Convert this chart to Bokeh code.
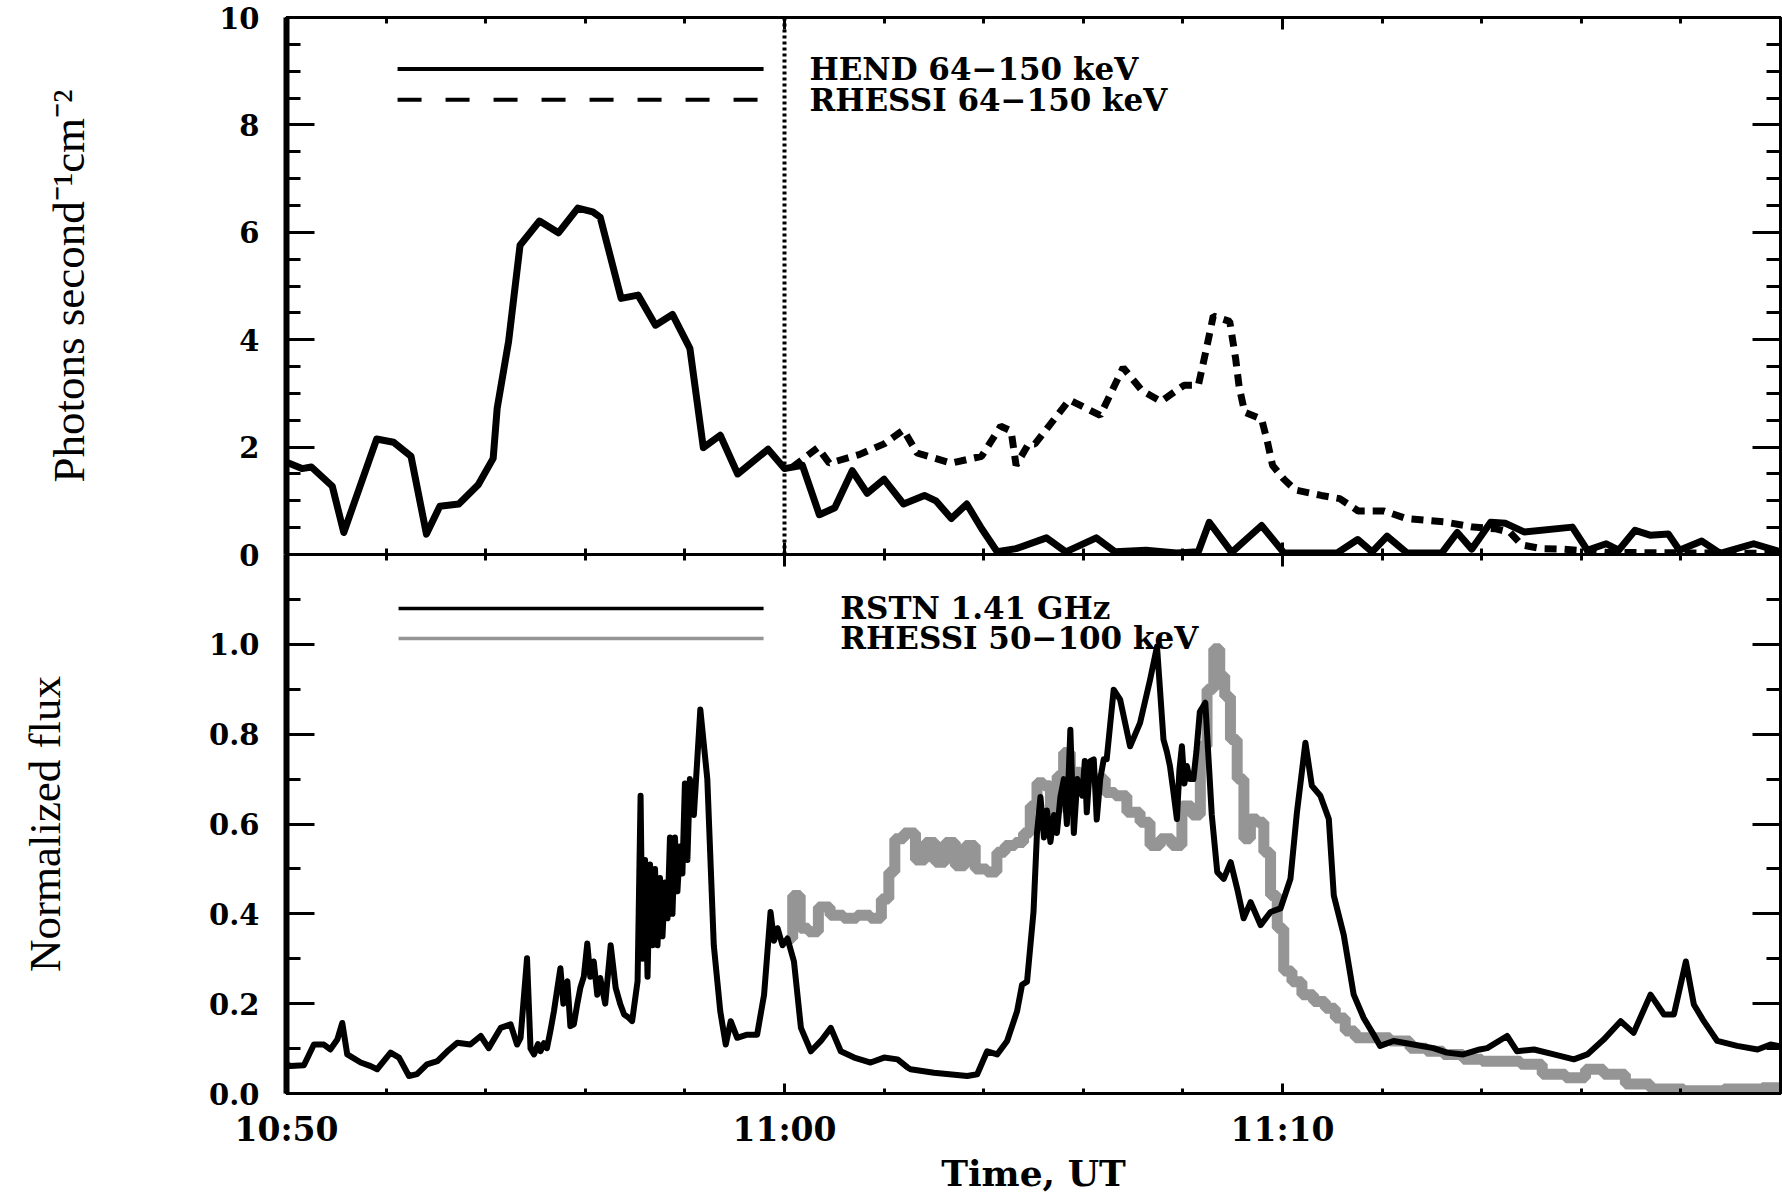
from bokeh.plotting import figure
from bokeh.models import Range1d, FixedTicker, LinearAxis, Span
from bokeh.layouts import column
from bokeh.core.properties import value
from bokeh.embed import file_html
from bokeh.resources import INLINE

# ---- time axis: minutes after 10:50 UT ----
x_major = [0, 10, 20]
x_minor = list(range(0, 31, 2))
x_labels = {0: "10:50", 10: "11:00", 20: "11:10"}

# ---- upper panel: hard X-ray photon flux (minutes, photons s^-1 cm^-2) ----
hend = [(0.0, 1.72), (0.31, 1.60), (0.5, 1.63), (0.92, 1.27), (1.15, 0.41), (1.81, 2.15),
        (2.15, 2.09), (2.5, 1.83), (2.81, 0.38), (3.08, 0.90), (3.46, 0.94), (3.85, 1.30),
        (4.15, 1.79), (4.23, 2.72), (4.46, 3.97), (4.69, 5.76), (5.08, 6.21), (5.46, 5.99),
        (5.85, 6.45), (6.15, 6.38), (6.3, 6.28), (6.72, 4.77), (7.06, 4.83), (7.41, 4.27),
        (7.75, 4.47), (8.1, 3.84), (8.37, 1.99), (8.71, 2.22), (9.06, 1.50), (9.67, 1.96),
        (10.0, 1.60), (10.36, 1.66), (10.7, 0.74), (11.01, 0.87), (11.36, 1.56),
        (11.66, 1.14), (12.0, 1.40), (12.39, 0.94), (12.81, 1.10), (13.04, 1.00),
        (13.35, 0.67), (13.66, 0.94), (13.96, 0.48), (14.27, 0.05), (14.65, 0.11),
        (15.26, 0.31), (15.65, 0.05), (16.26, 0.31), (16.64, 0.05), (17.26, 0.08),
        (17.87, 0.03), (18.31, 0.05), (18.53, 0.60), (18.98, 0.04), (19.58, 0.54),
        (20.03, 0.03), (21.1, 0.03), (21.51, 0.28), (21.8, 0.05), (22.1, 0.34),
        (22.5, 0.03), (23.2, 0.03), (23.51, 0.41), (23.8, 0.10), (24.18, 0.60),
        (24.48, 0.58), (24.85, 0.42), (25.82, 0.51), (26.12, 0.08), (26.5, 0.20),
        (26.75, 0.08), (27.08, 0.45), (27.38, 0.36), (27.75, 0.38), (27.97, 0.08),
        (28.42, 0.25), (28.79, 0.02), (29.46, 0.20), (30.0, 0.05)]

rhessi_hi = [(10.15, 1.62), (10.67, 1.99), (10.9, 1.70), (11.5, 1.86), (12.0, 2.06),
             (12.39, 2.32), (12.66, 1.89), (13.35, 1.70), (13.96, 1.83), (14.34, 2.39),
             (14.55, 2.30), (14.65, 1.66), (14.9, 2.06), (15.03, 2.06), (15.72, 2.88),
             (16.34, 2.59), (16.8, 3.48), (17.18, 3.05), (17.56, 2.85), (18.02, 3.15),
             (18.31, 3.15), (18.46, 3.78), (18.61, 4.44), (18.94, 4.34), (19.06, 3.64),
             (19.13, 3.12), (19.24, 2.65), (19.58, 2.52), (19.69, 2.13), (19.8, 1.66),
             (20.03, 1.40), (20.26, 1.20), (20.78, 1.10), (21.15, 1.04), (21.52, 0.81),
             (22.04, 0.81), (22.49, 0.67), (23.23, 0.61), (23.83, 0.51), (24.27, 0.48),
             (24.57, 0.41), (24.8, 0.18), (25.2, 0.11), (25.6, 0.10), (26.5, 0.04),
             (28.0, 0.03), (30.0, 0.02)]

# ---- lower panel: normalized radio and X-ray flux ----
rstn = [(0.0, 0.065), (0.08, 0.061), (0.35, 0.063), (0.55, 0.109), (0.75, 0.109),
        (0.88, 0.098), (1.02, 0.12), (1.12, 0.157), (1.22, 0.087), (1.49, 0.069),
        (1.69, 0.061), (1.82, 0.054), (2.09, 0.091), (2.26, 0.08), (2.46, 0.039),
        (2.62, 0.043), (2.82, 0.065), (3.03, 0.072), (3.23, 0.094), (3.43, 0.113),
        (3.69, 0.109), (3.9, 0.128), (4.06, 0.101), (4.3, 0.146), (4.5, 0.154),
        (4.63, 0.109), (4.7, 0.124), (4.83, 0.301), (4.9, 0.10), (4.97, 0.087),
        (5.05, 0.11), (5.1, 0.094), (5.17, 0.112), (5.23, 0.101), (5.3, 0.14),
        (5.37, 0.183), (5.5, 0.279), (5.56, 0.20), (5.64, 0.25), (5.7, 0.15),
        (5.77, 0.154), (5.84, 0.20), (5.9, 0.235), (5.97, 0.26), (6.04, 0.334),
        (6.1, 0.26), (6.17, 0.294), (6.24, 0.22), (6.3, 0.257), (6.4, 0.20),
        (6.51, 0.33), (6.61, 0.235), (6.7, 0.20), (6.78, 0.176), (6.86, 0.17),
        (6.94, 0.161), (7.05, 0.25), (7.11, 0.663), (7.15, 0.30), (7.2, 0.52),
        (7.25, 0.26), (7.3, 0.51), (7.35, 0.33), (7.4, 0.50), (7.45, 0.33), (7.5, 0.48),
        (7.55, 0.35), (7.6, 0.47), (7.65, 0.39), (7.7, 0.57), (7.75, 0.40), (7.8, 0.57),
        (7.85, 0.45), (7.9, 0.55), (7.95, 0.49), (8.0, 0.69), (8.05, 0.52), (8.1, 0.70),
        (8.18, 0.62), (8.31, 0.855), (8.45, 0.70), (8.58, 0.33), (8.71, 0.183),
        (8.82, 0.109), (8.92, 0.161), (9.05, 0.124), (9.25, 0.131), (9.45, 0.131),
        (9.59, 0.22), (9.72, 0.404), (9.79, 0.34), (9.86, 0.368), (9.96, 0.33),
        (10.06, 0.345), (10.19, 0.294), (10.33, 0.146), (10.53, 0.094), (10.73, 0.117),
        (10.93, 0.146), (11.13, 0.094), (11.4, 0.08), (11.73, 0.069), (12.0, 0.08),
        (12.27, 0.076), (12.47, 0.058), (12.53, 0.054), (13.0, 0.046), (13.67, 0.039),
        (13.87, 0.043), (14.07, 0.094), (14.27, 0.087), (14.47, 0.117), (14.67, 0.183),
        (14.77, 0.242), (14.87, 0.249), (15.0, 0.404), (15.07, 0.58), (15.14, 0.66),
        (15.21, 0.57), (15.27, 0.63), (15.34, 0.56), (15.41, 0.62), (15.47, 0.58),
        (15.54, 0.66), (15.61, 0.70), (15.67, 0.60), (15.74, 0.81), (15.81, 0.58),
        (15.88, 0.70), (15.98, 0.663), (16.03, 0.74), (16.07, 0.626), (16.14, 0.74),
        (16.21, 0.744), (16.27, 0.61), (16.34, 0.70), (16.41, 0.744), (16.47, 0.744),
        (16.61, 0.899), (16.74, 0.877), (16.94, 0.773), (17.14, 0.825), (17.34, 0.921),
        (17.48, 0.995), (17.61, 0.788), (17.68, 0.76), (17.74, 0.729), (17.8, 0.68),
        (17.88, 0.611), (17.93, 0.72), (17.98, 0.773), (18.03, 0.69), (18.08, 0.729),
        (18.14, 0.70), (18.21, 0.70), (18.27, 0.76), (18.34, 0.85), (18.45, 0.87),
        (18.58, 0.62), (18.69, 0.493), (18.82, 0.478), (18.96, 0.515), (19.09, 0.456),
        (19.22, 0.39), (19.36, 0.426), (19.56, 0.375), (19.76, 0.404), (19.96, 0.412),
        (20.16, 0.478), (20.29, 0.626), (20.46, 0.781), (20.59, 0.685), (20.76, 0.663),
        (20.93, 0.611), (21.03, 0.441), (21.23, 0.353), (21.43, 0.22), (21.63, 0.168),
        (21.83, 0.131), (21.96, 0.106), (22.23, 0.117), (22.63, 0.109), (23.03, 0.101),
        (23.3, 0.091), (23.63, 0.087), (23.96, 0.098), (24.11, 0.101), (24.51, 0.128),
        (24.71, 0.094), (25.05, 0.098), (25.45, 0.087), (25.85, 0.076), (26.12, 0.087),
        (26.45, 0.12), (26.79, 0.161), (27.05, 0.135), (27.39, 0.22), (27.66, 0.176),
        (27.86, 0.176), (28.1, 0.294), (28.26, 0.198), (28.46, 0.161), (28.73, 0.117),
        (29.13, 0.106), (29.54, 0.098), (29.8, 0.109), (30.0, 0.105)]

rhessi_lo = [(10.08, 0.345), (10.25, 0.441), (10.38, 0.368), (10.58, 0.36), (10.78, 0.415),
             (11.05, 0.397), (11.32, 0.39), (11.59, 0.397), (11.86, 0.39), (12.03, 0.433),
             (12.16, 0.493), (12.27, 0.567), (12.53, 0.58), (12.73, 0.52), (12.93, 0.559),
             (13.13, 0.515), (13.33, 0.559), (13.53, 0.507), (13.73, 0.552), (13.93, 0.50),
             (14.2, 0.493), (14.33, 0.537), (14.53, 0.552), (14.73, 0.559), (14.87, 0.58),
             (15.0, 0.64), (15.14, 0.692), (15.27, 0.685), (15.41, 0.626), (15.54, 0.707),
             (15.67, 0.759), (15.81, 0.715), (16.07, 0.707), (16.34, 0.70), (16.54, 0.67),
             (16.74, 0.663), (17.01, 0.626), (17.27, 0.604), (17.41, 0.552), (17.68, 0.567),
             (17.88, 0.552), (18.08, 0.64), (18.28, 0.62), (18.42, 0.773), (18.55, 0.90),
             (18.69, 0.99), (18.79, 0.93), (18.89, 0.884), (19.02, 0.788), (19.16, 0.70),
             (19.29, 0.567), (19.42, 0.611), (19.56, 0.604), (19.69, 0.537), (19.83, 0.441),
             (19.96, 0.368), (20.09, 0.273), (20.29, 0.249), (20.49, 0.22), (20.76, 0.205),
             (20.96, 0.19), (21.16, 0.168), (21.36, 0.139), (21.56, 0.124), (21.96, 0.124),
             (22.36, 0.117), (22.76, 0.101), (23.03, 0.094), (23.43, 0.087), (23.83, 0.076),
             (24.18, 0.072), (24.58, 0.072), (24.98, 0.065), (25.45, 0.043), (25.92, 0.035),
             (26.25, 0.054), (26.65, 0.043), (27.12, 0.021), (27.66, 0.01), (28.46, 0.006),
             (29.26, 0.01), (30.0, 0.013)]

# ---- legend entries ----
top_legend_text = ["HEND 64\u2212150 keV", "RHESSI 64\u2212150 keV"]
top_legend_y = [9.04, 8.47]
bot_legend_text = ["RSTN 1.41 GHz", "RHESSI 50\u2212100 keV"]
bot_legend_y = [1.08, 1.013]

GRAY = "#959595"
TICK_FONT = "DejaVu Serif"
TITLE_FONT = "Liberation Serif"
OVERLAP = 22   # the upper canvas runs this far under the lower one


def split(pairs):
    return [p[0] for p in pairs], [p[1] for p in pairs]


def style_axis(ax, ticker, major_in, minor_in, line_width=3, labels=None, font_size="29px",
               standoff=0):
    ax.ticker = ticker
    ax.axis_line_width = line_width
    ax.axis_line_color = "black"
    ax.major_tick_in = major_in
    ax.major_tick_out = 0
    ax.minor_tick_in = minor_in
    ax.minor_tick_out = 0
    ax.major_tick_line_width = 3
    ax.minor_tick_line_width = 3
    ax.major_tick_line_color = "black"
    ax.minor_tick_line_color = "black"
    ax.major_label_standoff = standoff
    if labels is None:
        # tick marks only, no numbers on this side
        ax.major_label_text_color = None
        ax.major_label_text_font_size = "0px"
    else:
        ax.major_label_overrides = labels
        ax.major_label_text_font = TICK_FONT
        ax.major_label_text_font_style = "bold"
        ax.major_label_text_font_size = font_size
        ax.major_label_text_color = "black"


def x_ticker():
    return FixedTicker(ticks=x_major, minor_ticks=x_minor)


x_range = Range1d(0, 30)

# ================= upper panel =================
top = figure(width=1782, height=554 + OVERLAP, x_range=x_range, y_range=Range1d(0, 10),
             output_backend="svg", toolbar_location=None,
             min_border_left=286, min_border_right=2, min_border_top=17,
             min_border_bottom=OVERLAP)
top.grid.visible = False
top.outline_line_color = "black"
top.outline_line_width = 3

y_top_major = [0, 2, 4, 6, 8, 10]
y_top_minor = [i * 0.5 for i in range(21)]
y_top_labels = {v: str(v) for v in y_top_major}

style_axis(top.xaxis[0], x_ticker(), 12, 6)
style_axis(top.yaxis[0], FixedTicker(ticks=y_top_major, minor_ticks=y_top_minor), 28, 14,
           line_width=6, labels=y_top_labels, standoff=27)
top.yaxis[0].axis_label = "Photons second\u207b\u00b9cm\u207b\u00b2"
top.yaxis[0].axis_label_text_font = TITLE_FONT
top.yaxis[0].axis_label_text_font_style = "normal"
top.yaxis[0].axis_label_text_font_size = "45px"
top.yaxis[0].axis_label_text_color = "black"
top.yaxis[0].axis_label_standoff = 122

top_above = LinearAxis()
style_axis(top_above, x_ticker(), 12, 6)
top.add_layout(top_above, "above")
top_right = LinearAxis()
style_axis(top_right, FixedTicker(ticks=y_top_major, minor_ticks=y_top_minor), 28, 14)
top.add_layout(top_right, "right")

top.add_layout(Span(location=10, dimension="height", line_color="black",
                    line_width=4, line_dash="3 3"))

hend_t, hend_v = split(hend)
rhi_t, rhi_v = split(rhessi_hi)
top.line(hend_t, hend_v, line_color="black", line_width=7, line_join="round")
top.line(rhi_t, rhi_v, line_color="black", line_width=7, line_dash="12 8")

# legend
top.line([2.23, 9.58], [top_legend_y[0]] * 2, line_color="black", line_width=4)
top.line([2.23, 9.58], [top_legend_y[1]] * 2, line_color="black", line_width=4,
         line_dash="24 24")
top.text(x=[10.5, 10.5], y=top_legend_y, text=top_legend_text,
         text_font=value(TICK_FONT), text_font_style="bold", text_font_size="31px",
         text_baseline="middle", text_align="left", text_color="black")

# ================= lower panel =================
bot = figure(width=1782, height=642, x_range=x_range, y_range=Range1d(0, 1.2),
             output_backend="svg", toolbar_location=None,
             min_border_left=286, min_border_right=2, min_border_top=0, min_border_bottom=100,
             margin=(-OVERLAP, 0, 0, 0))
bot.grid.visible = False
bot.outline_line_color = "black"
bot.outline_line_width = 3
bot.border_fill_alpha = 0
bot.background_fill_alpha = 0

y_bot_major = [0.0, 0.2, 0.4, 0.6, 0.8, 1.0]
y_bot_minor = [round(i * 0.1, 1) for i in range(13)]
y_bot_labels = {v: f"{v:.1f}" for v in y_bot_major}

style_axis(bot.xaxis[0], x_ticker(), 10, 5, labels=x_labels, font_size="33px", standoff=16)
bot.xaxis[0].axis_label = "Time, UT"
bot.xaxis[0].axis_label_text_font = TICK_FONT
bot.xaxis[0].axis_label_text_font_style = "bold"
bot.xaxis[0].axis_label_text_font_size = "36px"
bot.xaxis[0].axis_label_text_color = "black"
bot.xaxis[0].axis_label_standoff = 0

style_axis(bot.yaxis[0], FixedTicker(ticks=y_bot_major, minor_ticks=y_bot_minor), 28, 14,
           line_width=6, labels=y_bot_labels, standoff=27)
bot.yaxis[0].axis_label = "Normalized flux"
bot.yaxis[0].axis_label_text_font = TITLE_FONT
bot.yaxis[0].axis_label_text_font_style = "normal"
bot.yaxis[0].axis_label_text_font_size = "45px"
bot.yaxis[0].axis_label_text_color = "black"
bot.yaxis[0].axis_label_standoff = 136

bot_above = LinearAxis()
style_axis(bot_above, x_ticker(), 12, 6)
bot.add_layout(bot_above, "above")
bot_right = LinearAxis()
style_axis(bot_right, FixedTicker(ticks=y_bot_major, minor_ticks=y_bot_minor), 28, 14)
bot.add_layout(bot_right, "right")

rlo_t, rlo_v = split(rhessi_lo)
rstn_t, rstn_v = split(rstn)
bot.step(rlo_t, rlo_v, mode="center", line_color=GRAY, line_width=11)
bot.line(rstn_t, rstn_v, line_color="black", line_width=6, line_join="round")

# legend
bot.line([2.25, 9.58], [bot_legend_y[0]] * 2, line_color="black", line_width=3.5)
bot.line([2.25, 9.58], [bot_legend_y[1]] * 2, line_color=GRAY, line_width=3.5)
bot.text(x=[11.12, 11.12], y=bot_legend_y, text=bot_legend_text,
         text_font=value(TICK_FONT), text_font_style="bold", text_font_size="31px",
         text_baseline="middle", text_align="left", text_color="black")

p = column(top, bot, spacing=0)
open("out.html", "w").write(file_html(p, INLINE))
